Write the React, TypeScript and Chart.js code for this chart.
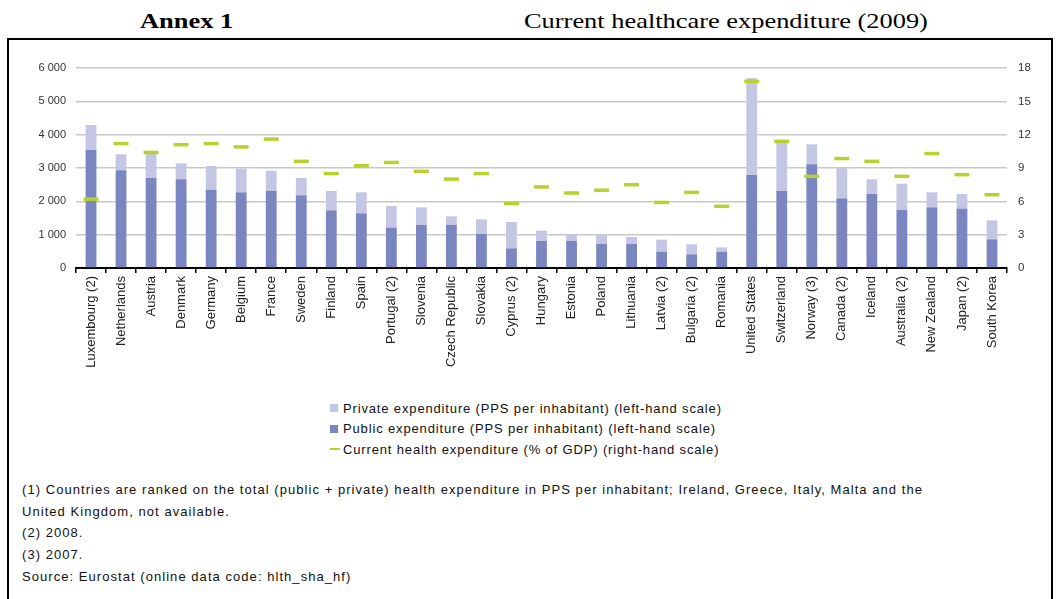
import React, { useEffect, useRef } from "react";
import { Chart, registerables } from "chart.js";

Chart.register(...registerables);

const categories = [
  "Luxembourg (2)", "Netherlands", "Austria", "Denmark", "Germany", "Belgium", "France", "Sweden",
  "Finland", "Spain", "Portugal (2)", "Slovenia", "Czech Republic", "Slovakia", "Cyprus (2)", "Hungary",
  "Estonia", "Poland", "Lithuania", "Latvia (2)", "Bulgaria (2)", "Romania", "United States", "Switzerland",
  "Norway (3)", "Canada (2)", "Iceland", "Australia (2)", "New Zealand", "Japan (2)", "South Korea",
];

const publicExp = [
  3540, 2930, 2710, 2660, 2350, 2270, 2310, 2180, 1730, 1640, 1210, 1290, 1290, 1020, 590, 810,
  810, 720, 720, 490, 410, 490, 2790, 2310, 3110, 2090, 2220, 1740, 1820, 1780, 860,
];

const privateExp = [
  750, 480, 740, 480, 710, 710, 610, 520, 580, 630, 650, 530, 260, 440, 790, 310,
  210, 270, 210, 360, 300, 130, 2910, 1500, 600, 900, 440, 790, 450, 440, 570,
];

const gdpShare = [
  6.2, 11.2, 10.4, 11.1, 11.2, 10.9, 11.6, 9.6, 8.5, 9.2, 9.5, 8.7, 8.0, 8.5, 5.8, 7.3,
  6.75, 7.0, 7.5, 5.9, 6.8, 5.55, 16.8, 11.4, 8.25, 9.85, 9.6, 8.25, 10.3, 8.4, 6.6,
];

const leftTicks = ["0", "1 000", "2 000", "3 000", "4 000", "5 000", "6 000"];

const legendItems = [
  { label: "Private expenditure (PPS per inhabitant) (left-hand scale)", kind: "box", color: "#c3c7e4" },
  { label: "Public expenditure (PPS per inhabitant) (left-hand scale)", kind: "box", color: "#7b86c1" },
  { label: "Current health expenditure (% of GDP) (right-hand scale)", kind: "line", color: "#b9d031" },
];

const footnotes = [
  "(1) Countries are ranked on the total (public + private) health expenditure in PPS per inhabitant; Ireland, Greece, Italy, Malta and the",
  "United Kingdom, not available.",
  "(2) 2008.",
  "(3) 2007.",
  "Source: Eurostat (online data code: hlth_sha_hf)",
];

const SANS = "'Liberation Sans', Arial, sans-serif";
const SERIF = "'Liberation Serif', 'Times New Roman', serif";

export default function App() {
  const canvasRef = useRef<HTMLCanvasElement | null>(null);

  useEffect(() => {
    const canvas = canvasRef.current;
    if (!canvas) return;
    const chart = new Chart(canvas, {
      type: "bar",
      data: {
        labels: categories,
        datasets: [
          {
            type: "line",
            label: "Current health expenditure (% of GDP) (right-hand scale)",
            data: gdpShare,
            yAxisID: "y1",
            showLine: false,
            pointStyle: "line",
            pointRadius: 7.5,
            pointHoverRadius: 7.5,
            borderColor: "#b9d031",
            backgroundColor: "#b9d031",
            pointBorderWidth: 3.5,
            borderWidth: 3.5,
            order: 0,
          } as any,
          {
            label: "Public expenditure (PPS per inhabitant) (left-hand scale)",
            data: publicExp,
            backgroundColor: "#7b86c1",
            yAxisID: "y",
            stack: "s",
            order: 1,
            barPercentage: 0.36,
            categoryPercentage: 1,
          },
          {
            label: "Private expenditure (PPS per inhabitant) (left-hand scale)",
            data: privateExp,
            backgroundColor: "#c3c7e4",
            yAxisID: "y",
            stack: "s",
            order: 1,
            barPercentage: 0.36,
            categoryPercentage: 1,
          },
        ],
      },
      options: {
        animation: false,
        responsive: false,
        devicePixelRatio: 1,
        layout: { padding: { top: 18, left: 0, right: 0, bottom: 0 } },
        plugins: { legend: { display: false }, tooltip: { enabled: false } },
        scales: {
          x: {
            stacked: true,
            offset: true,
            border: { display: true, color: "#000", width: 2 },
            grid: {
              display: true,
              offset: true,
              drawOnChartArea: false,
              drawTicks: true,
              tickLength: 5,
              color: "#000",
              lineWidth: 1.5,
            },
            ticks: {
              autoSkip: false,
              maxRotation: 90,
              minRotation: 90,
              padding: 3,
              color: "#222",
              font: { family: SANS, size: 13 },
            },
            afterFit: (s: any) => {
              s.height = 122;
            },
          },
          y: {
            stacked: true,
            position: "left",
            min: 0,
            max: 6000,
            border: { display: false },
            grid: { color: "#c8c8c8", lineWidth: 1.5, drawTicks: false },
            ticks: {
              stepSize: 1000,
              padding: 10,
              color: "#333",
              font: { family: SANS, size: 11 },
              callback: (v: any) => leftTicks[Math.round(Number(v) / 1000)] ?? "",
            },
            afterFit: (s: any) => {
              s.width = 61;
            },
          },
          y1: {
            position: "right",
            min: 0,
            max: 18,
            border: { display: false },
            grid: { drawOnChartArea: false, drawTicks: false },
            ticks: {
              stepSize: 3,
              padding: 11,
              color: "#333",
              font: { family: SANS, size: 11.5 },
            },
            afterFit: (s: any) => {
              s.width = 38;
            },
          },
        },
      },
    });
    return () => chart.destroy();
  }, []);

  return (
    <div
      style={{
        position: "absolute",
        left: 0,
        top: 0,
        width: 1059,
        height: 599,
        overflow: "hidden",
        background: "#fff",
        fontFamily: SANS,
      }}
    >
      <div
        style={{
          position: "absolute",
          left: 140,
          top: 8,
          fontFamily: SERIF,
          fontWeight: "bold",
          fontSize: 22,
          color: "#000",
          whiteSpace: "nowrap",
          transform: "scaleX(1.2)",
          transformOrigin: "left center",
        }}
      >
        Annex 1
      </div>
      <div
        style={{
          position: "absolute",
          left: 524,
          top: 8,
          fontFamily: SERIF,
          fontSize: 22,
          color: "#000",
          whiteSpace: "nowrap",
          transform: "scaleX(1.2)",
          transformOrigin: "left center",
        }}
      >
        Current healthcare expenditure (2009)
      </div>
      <div
        style={{
          position: "absolute",
          left: 7,
          top: 38,
          width: 1042,
          height: 600,
          border: "2px solid #000",
        }}
      />
      <canvas
        ref={canvasRef}
        width={1030}
        height={340}
        style={{ position: "absolute", left: 15, top: 50, width: 1030, height: 340 }}
      />
      {legendItems.map((it, i) => (
        <div
          key={it.label}
          style={{
            position: "absolute",
            left: 330,
            top: 400 + i * 20.5,
            height: 16,
            display: "flex",
            alignItems: "center",
            fontSize: 13,
            color: "#111",
            whiteSpace: "nowrap",
          }}
        >
          {it.kind === "box" ? (
            <span style={{ display: "inline-block", width: 8, height: 8, background: it.color, marginRight: 5 }} />
          ) : (
            <span style={{ display: "inline-block", width: 10, height: 2, background: it.color, marginRight: 3 }} />
          )}
          <span style={{ letterSpacing: 0.85 }}>{it.label}</span>
        </div>
      ))}
      {footnotes.map((t, i) => (
        <div
          key={i}
          style={{
            position: "absolute",
            left: 22,
            top: 482 + i * 21.7,
            fontSize: 13,
            color: "#111",
            whiteSpace: "nowrap",
            letterSpacing: 1.05,
          }}
        >
          {t}
        </div>
      ))}
    </div>
  );
}
